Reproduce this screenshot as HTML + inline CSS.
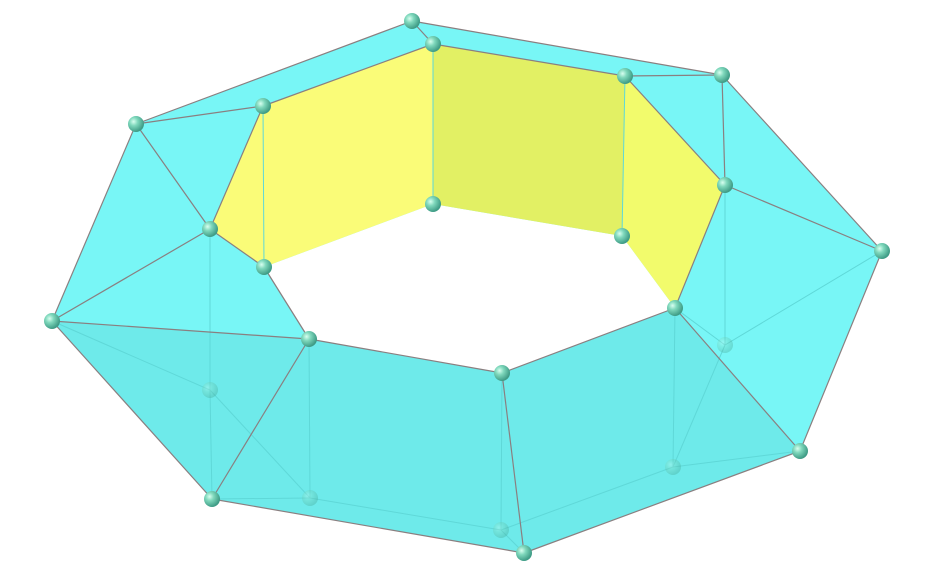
<!DOCTYPE html>
<html><head><meta charset="utf-8"><style>
html,body{margin:0;padding:0;background:#fff;}
svg{display:block;}
</style></head><body>
<svg id="chart" width="944" height="574" viewBox="0 0 944 574" xmlns="http://www.w3.org/2000/svg">
<defs>
<radialGradient id="ball" cx="35%" cy="35%" r="65%">
<stop offset="0" stop-color="#d8fff0"/><stop offset="0.4" stop-color="#7fd8bc"/><stop offset="1" stop-color="#3f9c86"/>
</radialGradient>
</defs>
<g id="faces"></g><g id="edges"></g><g id="balls"></g>
</svg>
<script>
const vertexNames = ["A","B","C","D","E","F","G","H","I","J","K","L","M","N","O","P","Q","R","S","T","U","V","W","X"];
const vertexX = [412,433,625,722,725,882,622,433,263,136,210,264,52,309,210,502,675,725,800,673,524,501,212,310];
const vertexY = [21,44,76,75,185,251,236,204,106,124,229,267,321,339,390,373,308,345,451,467,553,530,499,498];
const hiddenVertices = ["O","R","T","V","X"];
const faceList = [
 {name:"outer-hull",v:["A","D","F","S","U","W","M","J"],fill:"#78f6f6"},
 {name:"front-band",v:["M","N","P","Q","S","U","W"],fill:"#6eeaea"},
 {name:"ring-hole",v:["L","H","G","Q","P","N"],fill:"#ffffff"},
 {name:"yellow-wall-left",v:["I","B","H","L","K"],fill:"#fafc78"},
 {name:"yellow-wall-middle",v:["B","C","G","H"],fill:"#e2f064"},
 {name:"yellow-wall-right",v:["C","E","Q","G"],fill:"#f2fb6c"}
];
const edgeList = [["A","D"],["D","F"],["F","S"],["S","U"],["U","W"],["W","M"],["M","J"],["J","A"],["A","B"],["B","C"],["C","D"],["J","I"],["I","B"],["I","K"],["K","M"],["K","L"],["L","N"],["N","M"],["N","W"],["N","P"],["P","U"],["P","Q"],["Q","S"],["Q","E"],["E","F"],["E","C"],["J","K"],["D","E"]];
const faintEdges = [["O","K"],["O","M"],["O","W"],["X","N"],["X","W"],["X","V"],["V","P"],["V","U"],["T","Q"],["T","S"],["T","V"],["R","Q"],["R","F"],["R","E"],["I","L"],["B","H"],["C","G"],["O","X"],["T","R"]];
const NS="http://www.w3.org/2000/svg";
function P(n){const i=vertexNames.indexOf(n);return [vertexX[i],vertexY[i]];}
const fg=document.getElementById("faces"),eg=document.getElementById("edges"),bg=document.getElementById("balls");
faceList.forEach(f=>{const p=document.createElementNS(NS,"polygon");
p.setAttribute("points",f.v.map(n=>P(n).join(",")).join(" "));p.setAttribute("fill",f.fill);


fg.appendChild(p);});
faintEdges.forEach(e=>{const a=P(e[0]),b=P(e[1]);const l=document.createElementNS(NS,"line");
l.setAttribute("x1",a[0]);l.setAttribute("y1",a[1]);l.setAttribute("x2",b[0]);l.setAttribute("y2",b[1]);
l.setAttribute("stroke","#5fd8d8");l.setAttribute("stroke-width","1");


eg.appendChild(l);});
edgeList.forEach(e=>{const a=P(e[0]),b=P(e[1]);const l=document.createElementNS(NS,"line");
l.setAttribute("x1",a[0]);l.setAttribute("y1",a[1]);l.setAttribute("x2",b[0]);l.setAttribute("y2",b[1]);
l.setAttribute("stroke","#8a7f80");l.setAttribute("stroke-width","1.2");


eg.appendChild(l);});
vertexNames.forEach(n=>{const p=P(n);const c=document.createElementNS(NS,"circle");
c.setAttribute("cx",p[0]);c.setAttribute("cy",p[1]);c.setAttribute("r",8);c.setAttribute("fill","url(#ball)");
if(hiddenVertices.includes(n))c.setAttribute("opacity","0.3");


bg.appendChild(c);});
</script>
</body></html>
